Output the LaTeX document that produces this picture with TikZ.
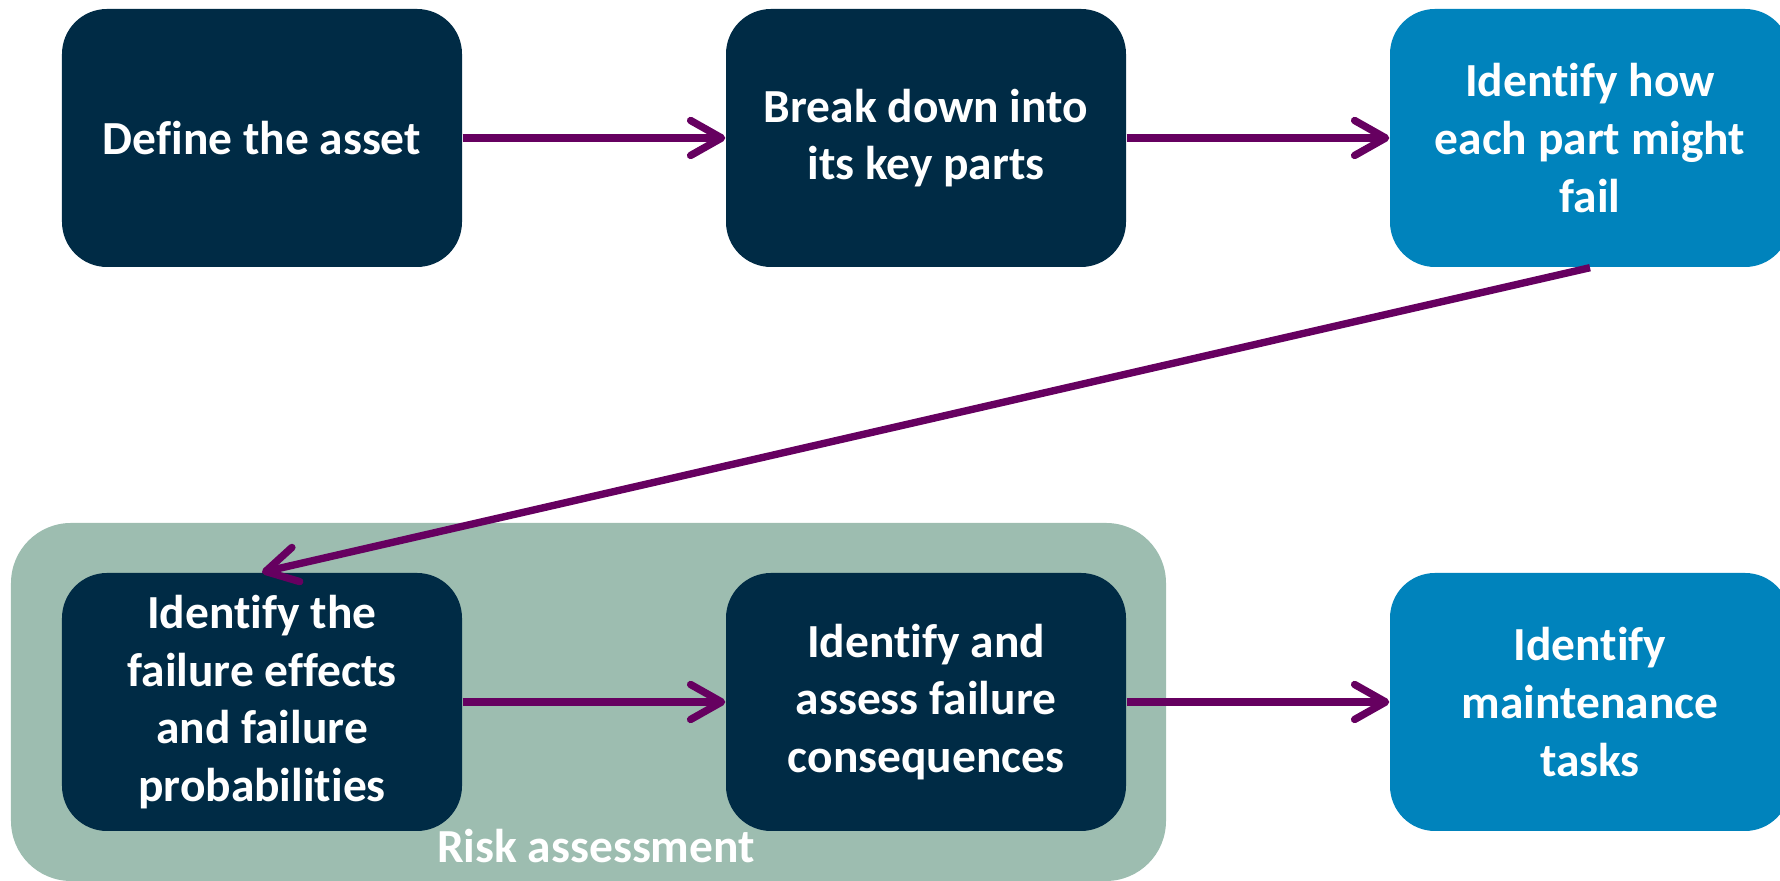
\documentclass[tikz,border=0pt]{standalone}
\usepackage{fontspec}
\setmainfont{Carlito}[Ligatures=NoCommon]
\usetikzlibrary{arrows.meta}

\definecolor{navy}{RGB}{0,43,69}
\definecolor{sky}{RGB}{0,131,188}
\definecolor{sage}{RGB}{157,189,176}
\definecolor{plum}{RGB}{102,0,96}

\tikzset{
  stagebox/.style={fill=navy, text=white, rounded corners=0.45cm, minimum width=4cm,
    minimum height=2.58cm, align=center, inner sep=0pt,
    font=\bfseries\fontsize{13.5}{16.4}\selectfont},
  outcome/.style={stagebox, fill=sky},
  flow/.style={draw=plum, line width=2.1pt, -{Straight Barb[length=3.1mm,width=3.5mm,round]}}
}

\begin{document}
\begin{tikzpicture}
\useasboundingbox (0,0) rectangle (17.8,8.81);
\node[fill=sage, rounded corners=0.6cm, minimum width=11.55cm, minimum height=3.58cm,
  inner sep=0pt] (risk) at (5.885,1.79) {};
\node[anchor=base, text=white, font=\bfseries\fontsize{13.5}{16.4}\selectfont]
  (risklabel) at (5.96,0.18) {Risk assessment};

\node[stagebox] (asset) at (2.62,7.43) {Define the asset};
\node[stagebox] (parts) at (9.26,7.43) {Break down into\\its key parts};
\node[outcome] (modes) at (15.90,7.43) {Identify how\\each part might\\fail};
\node[stagebox] (effects) at (2.62,1.79) {Identify the\\failure effects\\and failure\\probabilities};
\node[stagebox] (conseq) at (9.26,1.79) {Identify and\\assess failure\\consequences};
\node[outcome] (tasks) at (15.90,1.79) {Identify\\maintenance\\tasks};

\draw[flow] (asset) -- (parts);
\draw[flow] (parts) -- (modes);
\draw[flow] (modes.south) -- (effects.north);
\draw[flow] (effects) -- (conseq);
\draw[flow] (conseq) -- (tasks);
\end{tikzpicture}
\end{document}
